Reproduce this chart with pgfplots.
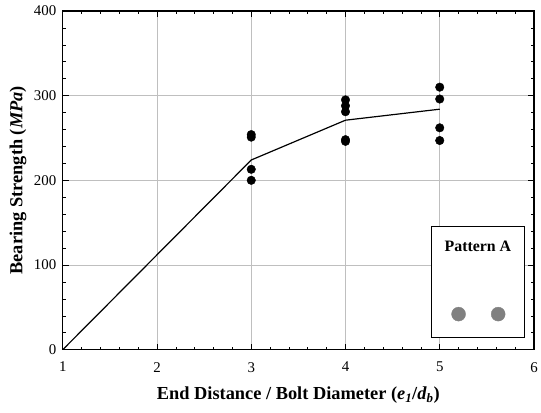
\documentclass[border=0pt]{standalone}
\usepackage{fontspec}
\setmainfont{Liberation Serif}
\usepackage{pgfplots}
\pgfplotsset{compat=1.18}

\begin{document}
\begin{tikzpicture}
\begin{axis}[
    scale only axis,
    width=473bp, height=340bp,
    xmin=1, xmax=6, ymin=0, ymax=400,
    xtick={1,2,3,4,5,6},
    ytick={0,100,200,300,400},
    minor x tick num=4,
    minor y tick num=4,
    tick align=inside,
    major tick length=6bp,
    minor tick length=3bp,
    grid=major,
    major grid style={black!25, line width=0.6bp},
    axis line style={line width=1.2bp},
    tick style={black, line width=0.6bp},
    ticklabel style={font=\fontsize{15}{15}\selectfont},
    xticklabel style={yshift=-9bp},
    yticklabel style={xshift=-3bp},
    /pgf/number format/assume math mode=true,
    xlabel={End Distance / Bolt Diameter (\textit{e}\textsubscript{\textit{1}}/\textit{d}\textsubscript{\textit{b}})},
    ylabel={Bearing Strength (\textit{MPa})},
    label style={font=\bfseries\fontsize{18.5}{19}\selectfont},
    xlabel style={at={(axis description cs:0.5,-0.135)}, anchor=center},
    ylabel style={at={(axis description cs:-0.095,0.5)}, anchor=center},
]
% fitted curve
\addplot[black, line width=1.2bp] coordinates {
    (1,0) (3,224) (4,271) (5,284)
};
% test results
\addplot[only marks, mark=*, mark size=4.3bp, black] coordinates {
    (3,254) (3,251) (3,213) (3,200)
    (4,295) (4,288) (4,281) (4,248) (4,246)
    (5,310) (5,296) (5,262) (5,247)
};
% pattern inset
\draw[fill=white, line width=0.8bp] (axis cs:4.91,14) rectangle (axis cs:5.9,146);
\node[font=\bfseries\fontsize{16}{16}\selectfont] at (axis cs:5.405,122) {Pattern A};
\addplot[only marks, mark=*, mark size=7bp, color=black!50] coordinates {
    (5.2,42) (5.62,42)
};
\end{axis}
\path[use as bounding box] (-63bp,-63bp) rectangle (478bp,351bp);
\end{tikzpicture}
\end{document}
